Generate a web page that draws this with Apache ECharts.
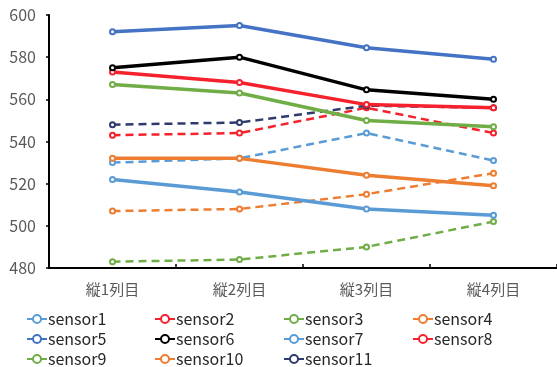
<!DOCTYPE html>
<html>
<head>
<meta charset="utf-8">
<script src="https://cdn.jsdelivr.net/npm/echarts@6/dist/echarts.min.js"></script>
<style>
  html, body { margin: 0; padding: 0; background: #fff; }
  #chart { width: 557px; height: 367px; }
</style>
</head>
<body>
<div id="chart"></div>
<script>
// Column labels along the x axis
const categories = ['縦1列目', '縦2列目', '縦3列目', '縦4列目'];

// Sensor readings per column
const sensor1  = [522, 516, 508, 505];
const sensor2  = [573, 568, 557.5, 556];
const sensor3  = [567, 563, 550, 547];
const sensor4  = [532, 532, 524, 519];
const sensor5  = [592, 595, 584.5, 579];
const sensor6  = [575, 580, 564.5, 560];
const sensor7  = [530, 532, 544, 531];
const sensor8  = [543, 544, 556, 544];
const sensor9  = [483, 484, 490, 502];
const sensor10 = [507, 508, 515, 525];
const sensor11 = [548, 549, 557, 556];

const yTicks = [480, 500, 520, 540, 560, 580, 600];

const FONT = '"Noto Sans CJK JP", "Noto Sans", sans-serif';
const TEXT = '#595959';

function mk(name, data, color, dashed) {
  return {
    name: name,
    type: 'line',
    data: data,
    symbol: 'circle',
    symbolSize: 5,
    showSymbol: true,
    z: dashed ? 2 : 3,
    lineStyle: { color: color, width: dashed ? 2.5 : 3.5, type: dashed ? [8, 5] : 'solid' },
    itemStyle: { color: '#ffffff', borderColor: color, borderWidth: 2 },
    emphasis: { disabled: true },
    animation: false
  };
}

const series = [
  mk('sensor1', sensor1, '#5B9BD5', false),
  mk('sensor2', sensor2, '#F5222D', false),
  mk('sensor3', sensor3, '#70AD47', false),
  mk('sensor4', sensor4, '#ED7D31', false),
  mk('sensor5', sensor5, '#4472C4', false),
  mk('sensor6', sensor6, '#000000', false),
  mk('sensor7', sensor7, '#5B9BD5', true),
  mk('sensor8', sensor8, '#F5222D', true),
  mk('sensor9', sensor9, '#70AD47', true),
  mk('sensor10', sensor10, '#ED7D31', true),
  mk('sensor11', sensor11, '#2E3B6B', true)
];

// Legend: one entry per cell of a 4-column grid, filled row by row
const legendColLeft = [21, 149, 278, 407];
const legendRowTop = [306, 326, 346];

const legends = series.map((s, i) => ({
  orient: 'horizontal',
  left: legendColLeft[i % 4],
  top: legendRowTop[Math.floor(i / 4)],
  itemWidth: 20,
  itemHeight: 10,
  itemGap: 0,
  selectedMode: false,
  data: [s.name],
  textStyle: { fontFamily: FONT, fontSize: 16, color: '#262626', padding: [0, 0, 0, -4] }
}));

const chart = echarts.init(document.getElementById('chart'), null, { renderer: 'canvas' });
chart.setOption({
  backgroundColor: '#ffffff',
  animation: false,
  grid: { left: 49, top: 15, width: 510, height: 253, containLabel: false },
  legend: legends,
  xAxis: {
    type: 'category',
    data: categories,
    boundaryGap: true,
    axisLine: { lineStyle: { color: '#000000', width: 2 } },
    axisTick: { show: true, inside: true, length: 4, lineStyle: { color: '#000000', width: 1.5 } },
    axisLabel: { fontFamily: FONT, fontSize: 15, color: TEXT, margin: 14 },
    splitLine: { show: false }
  },
  yAxis: {
    type: 'value',
    min: yTicks[0],
    max: yTicks[yTicks.length - 1],
    interval: 20,
    axisLine: { show: true, lineStyle: { color: '#000000', width: 2 } },
    axisTick: { show: true, length: 3, lineStyle: { color: '#000000', width: 1.5 } },
    axisLabel: { fontFamily: FONT, fontSize: 16, color: TEXT, margin: 13 },
    splitLine: { show: false }
  },
  series: series
});
</script>
</body>
</html>
